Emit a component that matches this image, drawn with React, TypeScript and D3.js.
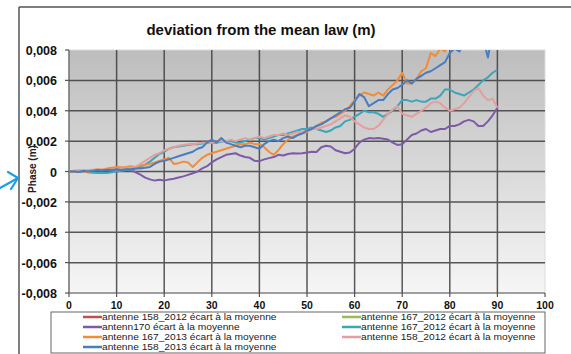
import React from "react";
import * as d3 from "d3";

// Sampled phase deviation (m) for x = 0, 1, 2, ... (array index is the x value)
const antenn170: number[] = [
  0, 0.00003, -0.00003, 0.00005, 0, 0.00005, 0.0001, 0.00008, 0.00012, 0.0001,
  0.00005, 0.0001, 0.00012, 0.00008, -0.00005, -0.0002, -0.0004, -0.00052, -0.0006, -0.00055,
  -0.0006, -0.00052, -0.00048, -0.0004, -0.00032, -0.00022, -0.00012, 0, 0.0002, 0.00035,
  0.0006, 0.0008, 0.00095, 0.0011, 0.00115, 0.0012, 0.00105, 0.00095, 0.0009, 0.0007,
  0.00068, 0.0008, 0.00088, 0.00095, 0.0011, 0.00105, 0.00115, 0.0012, 0.00118, 0.0012,
  0.00125, 0.0013, 0.00128, 0.0016, 0.0017, 0.00165, 0.0014, 0.0013, 0.0012, 0.00125,
  0.0015, 0.0019, 0.0021, 0.0022, 0.00218, 0.0022, 0.00215, 0.0021, 0.0019, 0.00175,
  0.0018, 0.0021, 0.0024, 0.0025, 0.0027, 0.0028, 0.0026, 0.0027, 0.0028, 0.0028,
  0.003, 0.003, 0.0031, 0.0033, 0.0034, 0.0033, 0.003, 0.003, 0.0033, 0.0037,
  0.0042,
];

const antenne167_2012: number[] = [
  0, 0.00002, -0.00003, 0, -0.00005, -0.00008, -0.0001, -0.00008, -0.0001, -0.00005,
  0, 0.00005, 0.0001, 0.00012, 0.0002, 0.0003, 0.00045, 0.00065, 0.0009, 0.00115,
  0.0013, 0.0015, 0.0016, 0.00165, 0.0017, 0.00175, 0.0018, 0.0018, 0.00185, 0.0019,
  0.0019, 0.0019, 0.00195, 0.002, 0.002, 0.0019, 0.0019, 0.002, 0.0021, 0.0022,
  0.0022, 0.0021, 0.0022, 0.0023, 0.0024, 0.0024, 0.0025, 0.0026, 0.0027, 0.0028,
  0.0028, 0.0029, 0.0028, 0.0027, 0.0026, 0.0027, 0.0029, 0.003, 0.0033, 0.0034,
  0.0036, 0.0038, 0.004, 0.0039, 0.0039, 0.0038, 0.0036, 0.0038, 0.004, 0.0043,
  0.0047, 0.0047, 0.0046, 0.0047, 0.0046, 0.0046, 0.0048, 0.0048, 0.005, 0.0054,
  0.0054, 0.0052, 0.0051, 0.005, 0.0052, 0.0054, 0.0057, 0.006, 0.0062, 0.0065,
  0.0067,
];

const antenne167_2013: number[] = [
  0, -0.00003, 0.00005, 0, -0.00005, 0.0001, 0.00015, 0.0001, 0.0002, 0.00025,
  0.0003, 0.00028, 0.0003, 0.00035, 0.0003, 0.0004, 0.00045, 0.0005, 0.0006, 0.0007,
  0.0008, 0.0009, 0.0005, 0.00055, 0.00065, 0.0006, 0.0003, 0.0006, 0.0009, 0.0011,
  0.0012, 0.0013, 0.0014, 0.0015, 0.0016, 0.0017, 0.0018, 0.0018, 0.0019, 0.0018,
  0.0018, 0.0016, 0.0013, 0.0011, 0.0014, 0.0018, 0.0021, 0.0023, 0.0024, 0.0025,
  0.0026, 0.0028, 0.003, 0.0032, 0.0033, 0.0035, 0.0036, 0.0038, 0.004, 0.0043,
  0.0047, 0.005, 0.0052, 0.0051, 0.005, 0.0052, 0.005, 0.0054, 0.0057, 0.006,
  0.0065, 0.0058, 0.0058, 0.0061, 0.0066, 0.0068, 0.0078, 0.0076, 0.0081, 0.0079,
  0.0086,
];

const antenne158_2012: number[] = [
  0, 0.00005, 0.0001, 0.00005, 0.0001, 0.00012, 0.0001, 0.00015, 0.0001, 0.00012,
  0.00015, 0.0002, 0.0002, 0.00025, 0.0003, 0.0005, 0.0007, 0.0009, 0.0011, 0.0012,
  0.0014, 0.0015, 0.0016, 0.0017, 0.00175, 0.0018, 0.0018, 0.00185, 0.0019, 0.0019,
  0.0019, 0.00195, 0.002, 0.002, 0.0021, 0.002, 0.0021, 0.0022, 0.0021, 0.0022,
  0.0023, 0.0022, 0.0023, 0.0024, 0.0024, 0.0025, 0.0024, 0.0025, 0.0026, 0.0026,
  0.0027, 0.0028, 0.0028, 0.0029, 0.003, 0.0031, 0.0033, 0.0035, 0.0037, 0.0036,
  0.0033, 0.0031, 0.0029, 0.0028, 0.0028, 0.003, 0.0034, 0.0038, 0.0041, 0.0043,
  0.0038, 0.0037, 0.0036, 0.0038, 0.004, 0.0042, 0.0045, 0.0046, 0.0045, 0.0042,
  0.004, 0.0041, 0.0042, 0.0045, 0.0049, 0.0053, 0.0055, 0.005, 0.0047, 0.0048,
  0.0042,
];

const antenne158_2013: number[] = [
  0, 0.00002, -0.00003, 0.00005, 0, 0.00005, 0.0001, 0.00008, 0.00012, 0.0001,
  0.00015, 0.0001, 0.00015, 0.00015, 0.0002, 0.0002, 0.00025, 0.0003, 0.0005, 0.00065,
  0.0007, 0.0008, 0.0009, 0.001, 0.0011, 0.0012, 0.0013, 0.0015, 0.0016, 0.0019,
  0.0021, 0.0019, 0.0022, 0.0019, 0.0018, 0.0017, 0.0016, 0.0017, 0.0017, 0.0016,
  0.0015, 0.0018, 0.002, 0.0021, 0.002, 0.0022, 0.0023, 0.0022, 0.0024, 0.0025,
  0.0027, 0.0028, 0.003, 0.0031, 0.0033, 0.0035, 0.0037, 0.0039, 0.0041, 0.0042,
  0.0046, 0.0051, 0.0049, 0.0043, 0.0045, 0.0047, 0.0047, 0.0051, 0.0054, 0.0055,
  0.0057, 0.006, 0.0058, 0.0061, 0.0063, 0.0065, 0.0066, 0.0068, 0.007, 0.0072,
  0.0078, 0.0081, 0.0079, 0.0085, 0.0088, 0.009, 0.0092, 0.0088, 0.0075, 0.0092,
];

const legendLabels: string[] = [
  "antenne 158_2012 écart à la moyenne",
  "antenne 167_2012 écart à la moyenne",
  "antenn170 écart à la moyenne",
  "antenne 167_2012 écart à la moyenne",
  "antenne 167_2013 écart à la moyenne",
  "antenne 158_2012 écart à la moyenne",
  "antenne 158_2013 écart à la moyenne",
];
const seriesColors: string[] = [
  "#c0504d",
  "#9bbb59",
  "#7d5ba6",
  "#3ca6b8",
  "#f08c3a",
  "#e39f9d",
  "#4a7cc0",
];
const seriesData: number[][] = [
  [],
  [],
  antenn170,
  antenne167_2012,
  antenne167_2013,
  antenne158_2012,
  antenne158_2013,
];

const xTicks: number[] = [0, 10, 20, 30, 40, 50, 60, 70, 80, 90, 100];
const yTicks: number[] = [-0.008, -0.006, -0.004, -0.002, 0, 0.002, 0.004, 0.006, 0.008];

const W = 571;
const H = 354;
const plot = { left: 69, right: 545, top: 50, bottom: 293 };

const fmtY = (v: number) =>
  Math.abs(v) < 1e-12 ? "0" : d3.format(".3f")(v).replace(".", ",").replace("−", "-");

export default function App() {
  const x = d3.scaleLinear().domain([0, 100]).range([plot.left, plot.right]);
  const y = d3.scaleLinear().domain([-0.008, 0.008]).range([plot.bottom, plot.top]);
  const line = d3
    .line<number>()
    .x((_, i) => x(i))
    .y((d) => y(d));

  const font = "'Liberation Sans', Arial, sans-serif";
  const legendRow0 = 317;
  const legendRowStep = 10;
  const legendScaleX = 1.16;

  return (
    <svg
      width={W}
      height={H}
      style={{ position: "absolute", left: 0, top: 0, background: "#fff" }}
      fontFamily={font}
    >
      <defs>
        <linearGradient id="plotBg" x1="0" y1="0" x2="0" y2="1">
          <stop offset="0" stopColor="#bdbdbd" />
          <stop offset="1" stopColor="#f6f6f6" />
        </linearGradient>
        <clipPath id="plotClip">
          <rect
            x={plot.left}
            y={plot.top}
            width={plot.right - plot.left}
            height={plot.bottom - plot.top}
          />
        </clipPath>
      </defs>

      {/* chart frame */}
      <line x1={19} y1={7} x2={W} y2={7} stroke="#555" strokeWidth={1.5} />
      <line x1={19} y1={7} x2={19} y2={H} stroke="#555" strokeWidth={1.5} />

      {/* pointer arrow */}
      <g stroke="#1f9fe0" strokeWidth={2.2} fill="none" strokeLinecap="round">
        <line x1={0} y1={188} x2={18} y2={178} />
        <line x1={18} y1={178} x2={8} y2={172} />
        <line x1={18} y1={178} x2={11} y2={189} />
      </g>

      {/* title */}
      <text x={261} y={35} textAnchor="middle" fontSize={15} fontWeight="bold" fill="#111">
        deviation from the mean law (m)
      </text>

      {/* plot area */}
      <rect
        x={plot.left}
        y={plot.top}
        width={plot.right - plot.left}
        height={plot.bottom - plot.top}
        fill="url(#plotBg)"
        stroke="#dcdcdc"
        strokeWidth={1}
      />

      {/* grid */}
      <g stroke="#3d3d3d" strokeWidth={1.5} opacity={0.85}>
        {yTicks
          .filter((t) => t > -0.008 && t < 0.008)
          .map((t) => (
            <line key={"gy" + t} x1={plot.left} x2={plot.right} y1={y(t)} y2={y(t)} />
          ))}
        {xTicks
          .filter((t) => t > 0 && t < 100)
          .map((t) => (
            <line key={"gx" + t} x1={x(t)} x2={x(t)} y1={plot.top} y2={plot.bottom} />
          ))}
      </g>

      {/* axes */}
      <g stroke="#555" strokeWidth={1.2}>
        <line x1={plot.left} x2={plot.left} y1={plot.top} y2={plot.bottom} />
        <line x1={plot.left} x2={plot.right} y1={plot.bottom} y2={plot.bottom} />
        {yTicks.map((t) => (
          <line key={"ty" + t} x1={plot.left - 4} x2={plot.left} y1={y(t)} y2={y(t)} />
        ))}
        {xTicks.map((t) => (
          <line key={"tx" + t} x1={x(t)} x2={x(t)} y1={plot.bottom} y2={plot.bottom + 4} />
        ))}
      </g>

      {/* tick labels */}
      <g fontSize={12.5} fontWeight="bold" fill="#111">
        {yTicks.map((t) => (
          <text key={"ly" + t} x={57} y={y(t) + 5} textAnchor="end">
            {fmtY(t)}
          </text>
        ))}
      </g>
      <g fontSize={10.5} fontWeight="bold" fill="#111">
        {xTicks.map((t) => (
          <text key={"lx" + t} x={x(t)} y={309} textAnchor="middle">
            {t}
          </text>
        ))}
      </g>

      {/* y-axis title */}
      <text
        transform="translate(36,169) rotate(-90)"
        textAnchor="middle"
        fontSize={10}
        fontWeight="bold"
        fill="#222"
      >
        Phase (m)
      </text>

      {/* series */}
      <g clipPath="url(#plotClip)" fill="none" strokeWidth={2} strokeLinejoin="round">
        {seriesData.map((d, i) =>
          d.length ? (
            <path key={"s" + i} d={line(d) ?? ""} stroke={seriesColors[i]} />
          ) : null
        )}
      </g>

      {/* legend */}
      <rect x={51} y={312} width={494} height={41} fill="#fff" stroke="#666" strokeWidth={1} />
      <g fontSize={8.8} fill="#222">
        {legendLabels.map((label, i) => {
          const col = i % 2;
          const row = Math.floor(i / 2);
          const sx = col === 0 ? 83 : 342;
          const cy = legendRow0 + row * legendRowStep;
          return (
            <g key={"lg" + i}>
              <line
                x1={sx}
                x2={sx + 19}
                y1={cy}
                y2={cy}
                stroke={seriesColors[i]}
                strokeWidth={2.5}
              />
              <text
                transform={`translate(${sx + 19},${cy + 3.2}) scale(${legendScaleX},1)`}
              >
                {label}
              </text>
            </g>
          );
        })}
      </g>
    </svg>
  );
}
